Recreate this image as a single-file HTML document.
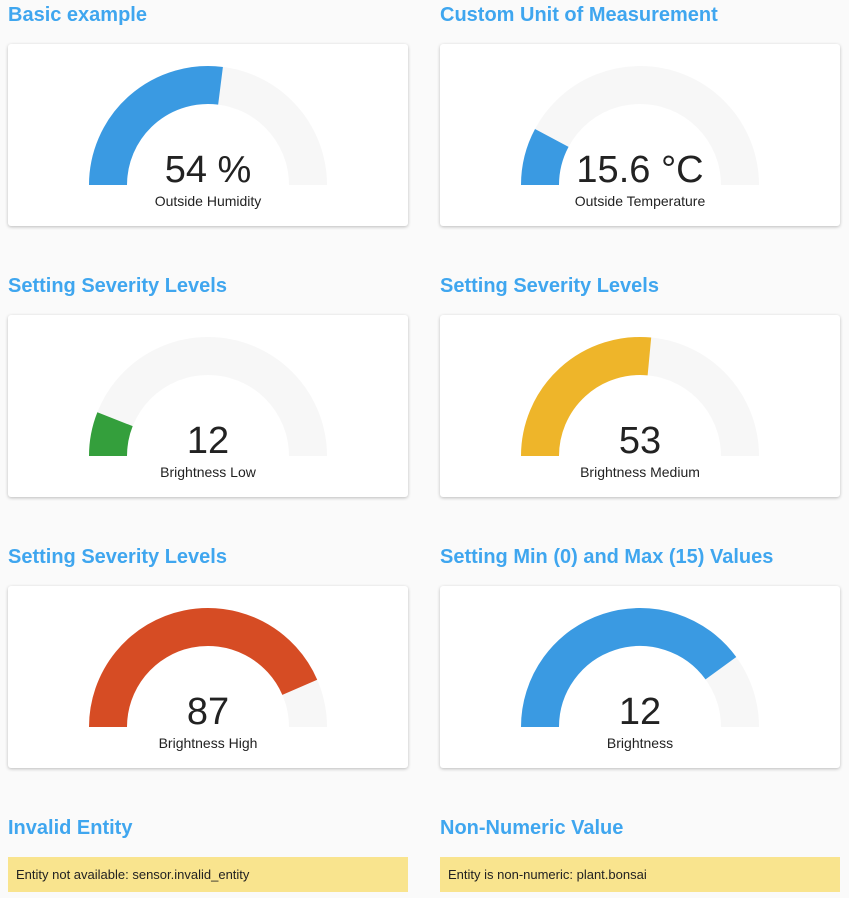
<!DOCTYPE html>
<html><head><meta charset="utf-8"><style>
body{margin:0;background:#fafafa;font-family:"Liberation Sans",sans-serif;width:849px;height:898px;position:relative;overflow:hidden}
.t{position:absolute;font-size:20px;font-weight:bold;color:#3fa6ef;margin:0;line-height:24px}
.card{position:absolute;width:400px;height:182px;background:#fff;border-radius:3px;box-shadow:0 1px 3px rgba(0,0,0,.25)}
.warn{position:absolute;width:392px;height:35px;padding-left:8px;background:#f9e48e;font-size:13px;line-height:35px;color:#222}
</style></head><body>
<div id="root"></div>
<script>
const titles=["Basic example","Custom Unit of Measurement","Setting Severity Levels","Setting Severity Levels","Setting Severity Levels","Setting Min (0) and Max (15) Values"];
const values=[54,15.6,12,53,87,12];
const units=[" %"," °C","","","",""];
const labels=["Outside Humidity","Outside Temperature","Brightness Low","Brightness Medium","Brightness High","Brightness"];
const mins=[0,0,0,0,0,0];
const maxs=[100,100,100,100,100,15];
const colors=["#3a9ae2","#3a9ae2","#349f3c","#eeb52a","#d64c24","#3a9ae2"];
const root=document.getElementById('root');
const NS="http://www.w3.org/2000/svg";
function pt(a,r){return [200+r*Math.cos(a),141-r*Math.sin(a)];}
function arc(f){const a=Math.PI*(1-f);const s=pt(Math.PI,100),e=pt(a,100);return `M${s[0]} ${s[1]} A100 100 0 0 1 ${e[0].toFixed(2)} ${e[1].toFixed(2)}`;}
for(let i=0;i<6;i++){
  const x=i%2?440:8, row=Math.floor(i/2), ty=row*271;
  const t=document.createElement('h2');t.className='t';t.textContent=titles[i];
  t.style.left=x+'px';t.style.top=(ty+3)+'px';
  
  
  root.appendChild(t);
  const c=document.createElement('div');c.className='card';c.style.left=x+'px';c.style.top=(ty+44)+'px';
  
  
  const f=Math.max(0,Math.min(1,(values[i]-mins[i])/(maxs[i]-mins[i])));
  c.innerHTML=`<svg width="400" height="182" xmlns="${NS}">
<path d="${arc(1)}" fill="none" stroke="#f7f7f7" stroke-width="38"/>
<path d="${arc(f)}" fill="none" stroke="${colors[i]}" stroke-width="38"/>
<text x="200" y="138" text-anchor="middle" font-size="38" fill="#222" font-family="Liberation Sans,sans-serif">${values[i]}${units[i]}</text>
<text x="200" y="162" text-anchor="middle" font-size="14" fill="#222" font-family="Liberation Sans,sans-serif">${labels[i]}</text></svg>`;
  root.appendChild(c);
}
</script>
<h2 class="t" style="left:8px;top:816px">Invalid Entity</h2>
<h2 class="t" style="left:440px;top:816px">Non-Numeric Value</h2>
<div class="warn" style="left:8px;top:857px">Entity not available: sensor.invalid_entity</div>
<div class="warn" style="left:440px;top:857px">Entity is non-numeric: plant.bonsai</div>
</body></html>
